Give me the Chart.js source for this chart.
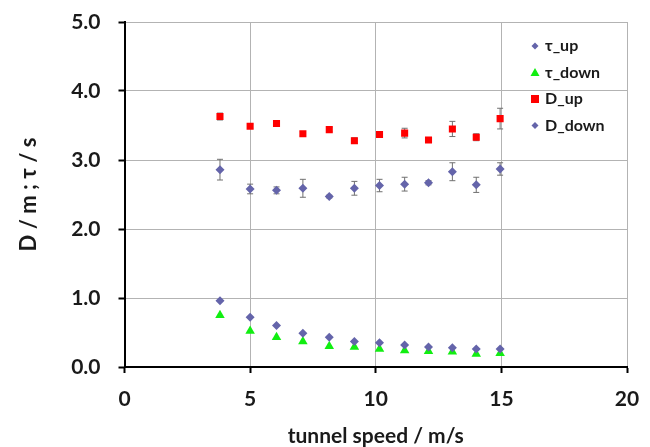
<!DOCTYPE html>
<html>
<head>
<meta charset="utf-8">
<script src="https://cdn.jsdelivr.net/npm/chart.js@4"></script>
<style>
  body { margin: 0; background: #fff; }
  #wrap { width: 650px; height: 447px; }
</style>
</head>
<body>
<div id="wrap"><canvas id="tauChart"></canvas></div>
<script>
// tunnel speeds (m/s)
const speeds = [3.8, 5.0, 6.05, 7.1, 8.15, 9.15, 10.15, 11.15, 12.1, 13.05, 14.0, 14.95];

const tauUp   = [0.96, 0.72, 0.60, 0.49, 0.43, 0.37, 0.35, 0.32, 0.29, 0.28, 0.26, 0.26];
const tauDown = [0.75, 0.52, 0.43, 0.37, 0.30, 0.29, 0.26, 0.24, 0.23, 0.22, 0.19, 0.20];
const dUp     = [3.63, 3.49, 3.53, 3.38, 3.44, 3.28, 3.37, 3.39, 3.29, 3.45, 3.33, 3.60];
const dDown   = [2.86, 2.58, 2.56, 2.59, 2.47, 2.59, 2.63, 2.65, 2.67, 2.83, 2.64, 2.87];

// error bar half-widths
const dUpErr   = [0.05, 0.03, 0.03, 0.03, 0.03, 0.04, 0.04, 0.07, 0.03, 0.11, 0.05, 0.15];
const dDownErr = [0.15, 0.07, 0.05, 0.13, 0.02, 0.10, 0.09, 0.10, 0.03, 0.13, 0.11, 0.09];

const xTicks = [0, 5, 10, 15, 20];
const yTicks = [0, 1, 2, 3, 4, 5];

const FONT = 'Lato, "Open Sans", sans-serif';
const TEXT = '#1a1a1a';

function pts(ys) {
  return ys.map((y, i) => ({ x: speeds[i], y: y }));
}

// vertical error bars, drawn behind the markers
const errorBars = {
  id: 'errorBars',
  beforeDatasetsDraw(chart) {
    const ctx = chart.ctx;
    const xs = chart.scales.x, ys = chart.scales.y;
    chart.data.datasets.forEach(ds => {
      if (!ds.errors) return;
      ctx.save();
      ctx.strokeStyle = '#707070';
      ctx.lineWidth = 1;
      ds.data.forEach((p, i) => {
        const e = ds.errors[i];
        const px = xs.getPixelForValue(p.x);
        const top = ys.getPixelForValue(p.y + e);
        const bot = ys.getPixelForValue(p.y - e);
        ctx.beginPath();
        ctx.moveTo(px, top); ctx.lineTo(px, bot);
        ctx.moveTo(px - 3, top); ctx.lineTo(px + 3, top);
        ctx.moveTo(px - 3, bot); ctx.lineTo(px + 3, bot);
        ctx.stroke();
      });
      ctx.restore();
    });
  }
};

// legend inside the plot, top right
const insideLegend = {
  id: 'insideLegend',
  afterDraw(chart) {
    const ctx = chart.ctx;
    const x0 = 535, y0 = 46, step = 26.5;
    ctx.save();
    ctx.font = 'bold 16px ' + FONT;
    ctx.textBaseline = 'middle';
    ctx.fillStyle = TEXT;
    chart.data.datasets.forEach((ds, i) => {
      const y = y0 + i * step;
      ctx.fillStyle = ds.backgroundColor;
      ctx.beginPath();
      if (ds.pointStyle === 'rectRot') {
        ctx.moveTo(x0, y - 3.5); ctx.lineTo(x0 + 3.5, y);
        ctx.lineTo(x0, y + 3.5); ctx.lineTo(x0 - 3.5, y);
      } else if (ds.pointStyle === 'triangle') {
        ctx.moveTo(x0, y - 4.5); ctx.lineTo(x0 + 4.5, y + 3.5); ctx.lineTo(x0 - 4.5, y + 3.5);
      } else {
        ctx.rect(x0 - 4, y - 4, 8, 8);
      }
      ctx.closePath();
      ctx.fill();
      ctx.fillStyle = TEXT;
      ctx.fillText(ds.label, x0 + 10, y);
    });
    ctx.restore();
  }
};

const ctx = document.getElementById('tauChart').getContext('2d');
new Chart(ctx, {
  type: 'scatter',
  data: {
    datasets: [
      { label: 'τ_up', data: pts(tauUp), pointStyle: 'rectRot', pointRadius: 4.5,
        backgroundColor: '#6464aa', borderColor: '#6464aa', borderWidth: 0 },
      { label: 'τ_down', data: pts(tauDown), pointStyle: 'triangle', pointRadius: 5.5,
        backgroundColor: '#11ee11', borderColor: '#11ee11', borderWidth: 0 },
      { label: 'D_up', data: pts(dUp), errors: dUpErr, pointStyle: 'rect', pointRadius: 5,
        backgroundColor: '#ff0000', borderColor: '#ff0000', borderWidth: 0 },
      { label: 'D_down', data: pts(dDown), errors: dDownErr, pointStyle: 'rectRot', pointRadius: 4.5,
        backgroundColor: '#6464aa', borderColor: '#6464aa', borderWidth: 0 }
    ]
  },
  options: {
    responsive: true,
    maintainAspectRatio: false,
    animation: false,
    layout: { padding: { top: 22, right: 23, left: 0, bottom: 0 } },
    plugins: {
      legend: { display: false },
      tooltip: { enabled: false }
    },
    scales: {
      x: {
        type: 'linear',
        min: 0, max: 20,
        afterFit: s => { s.height = 80; s.paddingLeft = 0; s.paddingRight = 0; },
        afterBuildTicks: s => { s.ticks = xTicks.map(v => ({ value: v })); },
        border: { color: '#000', width: 2 },
        grid: { color: '#b3b3b3', lineWidth: 1, tickColor: '#000', tickWidth: 2, tickLength: 6 },
        ticks: { color: TEXT, padding: 14, font: { family: FONT, size: 21, weight: 'bold' } },
        title: {
          display: true, text: 'tunnel speed / m/s', color: TEXT,
          padding: { top: 0, bottom: 0 },
          font: { family: FONT, size: 21, weight: 'bold', lineHeight: 1 }
        }
      },
      y: {
        type: 'linear',
        min: 0, max: 5,
        afterFit: s => { s.width = 124.5; s.paddingTop = 0; s.paddingBottom = 0; },
        afterBuildTicks: s => { s.ticks = yTicks.map(v => ({ value: v })); },
        border: { color: '#000', width: 2 },
        grid: { color: '#b3b3b3', lineWidth: 1, tickColor: '#000', tickWidth: 2, tickLength: 6 },
        ticks: {
          color: TEXT, padding: 18,
          font: { family: FONT, size: 21, weight: 'bold' },
          callback: v => v.toFixed(1)
        },
        title: {
          display: true, text: 'D / m ; τ / s', color: TEXT,
          padding: { top: 16, bottom: 0 },
          font: { family: FONT, size: 22, weight: 'bold', lineHeight: 1.2 }
        }
      }
    }
  },
  plugins: [errorBars, insideLegend]
});
</script>
</body>
</html>
